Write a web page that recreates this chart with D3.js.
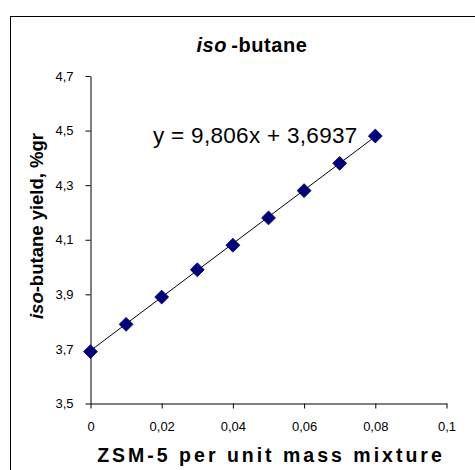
<!DOCTYPE html>
<html>
<head>
<meta charset="utf-8">
<script src="https://cdn.jsdelivr.net/npm/d3@7"></script>
<style>
  html, body { margin: 0; padding: 0; background: #fff; }
  svg { display: block; }
  text { font-family: "Liberation Sans", Arial, sans-serif; }
</style>
</head>
<body>
<svg id="chart" width="475" height="470"></svg>
<script>
// ZSM-5 content (mass fraction) and measured iso-butane yield
const zsmFraction = [0, 0.01, 0.02, 0.03, 0.04, 0.05, 0.06, 0.07, 0.08];
const isoButaneYield = [3.69, 3.79, 3.89, 3.99, 4.08, 4.18, 4.28, 4.38, 4.48];

// Linear trend line
const trendSlope = 9.806;
const trendIntercept = 3.6937;

const xTicks = [0, 0.02, 0.04, 0.06, 0.08, 0.1];
const yTicks = [3.5, 3.7, 3.9, 4.1, 4.3, 4.5, 4.7];

const commaFmt = v => String(+v.toFixed(4)).replace(".", ",");

const svg = d3.select("#chart");

// chart frame (runs off the right and bottom edges)
svg.append("rect")
  .attr("x", 10.5).attr("y", 16.5)
  .attr("width", 480).attr("height", 470)
  .attr("fill", "#fff").attr("stroke", "#000").attr("stroke-width", 1);

const plot = { left: 90.5, right: 446.5, top: 76, bottom: 403.5 };

const x = d3.scaleLinear().domain([0, 0.1]).range([plot.left, plot.right]);
const y = d3.scaleLinear().domain([3.5, 4.7]).range([plot.bottom, plot.top]);

// axes
const xAxis = svg.append("g")
  .attr("transform", `translate(0,${plot.bottom})`)
  .call(d3.axisBottom(x).tickValues(xTicks).tickFormat(commaFmt).tickSize(5).tickPadding(13).tickSizeOuter(0));
const yAxis = svg.append("g")
  .attr("transform", `translate(${plot.left},0)`)
  .call(d3.axisLeft(y).tickValues(yTicks).tickFormat(commaFmt).tickSize(5).tickPadding(12).tickSizeOuter(0));

[xAxis, yAxis].forEach(g => {
  g.select(".domain").attr("stroke", "#000");
  g.selectAll(".tick line").attr("stroke", "#000");
  g.selectAll(".tick text")
    .attr("fill", "#000")
    .style("font-family", '"Liberation Sans", Arial, sans-serif')
    .style("font-size", "13px");
});

// trend line
const tx = [0, 0.08];
svg.append("line")
  .attr("x1", x(tx[0])).attr("y1", y(trendSlope * tx[0] + trendIntercept))
  .attr("x2", x(tx[1])).attr("y2", y(trendSlope * tx[1] + trendIntercept))
  .attr("stroke", "#000").attr("stroke-width", 1);

// diamond markers
const diamond = d3.symbol().type(d3.symbolSquare).size(96);
svg.append("g").selectAll("path")
  .data(zsmFraction.map((v, i) => [v, isoButaneYield[i]]))
  .join("path")
  .attr("d", diamond)
  .attr("transform", d => `translate(${x(d[0])},${y(d[1])}) rotate(45)`)
  .attr("fill", "#000080")
  .attr("stroke", "#000060")
  .attr("stroke-width", 0.8);

// trend equation
svg.append("text")
  .attr("x", 153).attr("y", 143)
  .style("font-size", "22.5px")
  .style("letter-spacing", "0.3px")
  .text(`y = ${commaFmt(trendSlope)}x + ${commaFmt(trendIntercept)}`);

// title
const title = svg.append("text")
  .attr("x", 252).attr("y", 52)
  .attr("text-anchor", "middle")
  .style("font-size", "20px")
  .style("font-weight", "bold")
  .style("letter-spacing", "0.6px");
title.append("tspan").style("font-style", "italic").text("iso");
title.append("tspan").attr("dx", 4).text("-butane");

// x axis title
svg.append("text")
  .attr("x", 271).attr("y", 461.5)
  .attr("text-anchor", "middle")
  .style("font-size", "19.5px")
  .style("font-weight", "bold")
  .style("letter-spacing", "3px")
  .text("ZSM-5 per unit mass mixture");

// y axis title
const yTitle = svg.append("text")
  .attr("transform", "translate(43,226) rotate(-90)")
  .attr("text-anchor", "middle")
  .style("font-size", "18.5px")
  .style("font-weight", "bold");
yTitle.append("tspan").style("font-style", "italic").text("iso");
yTitle.append("tspan").text("-butane yield, %gr");
</script>
</body>
</html>
